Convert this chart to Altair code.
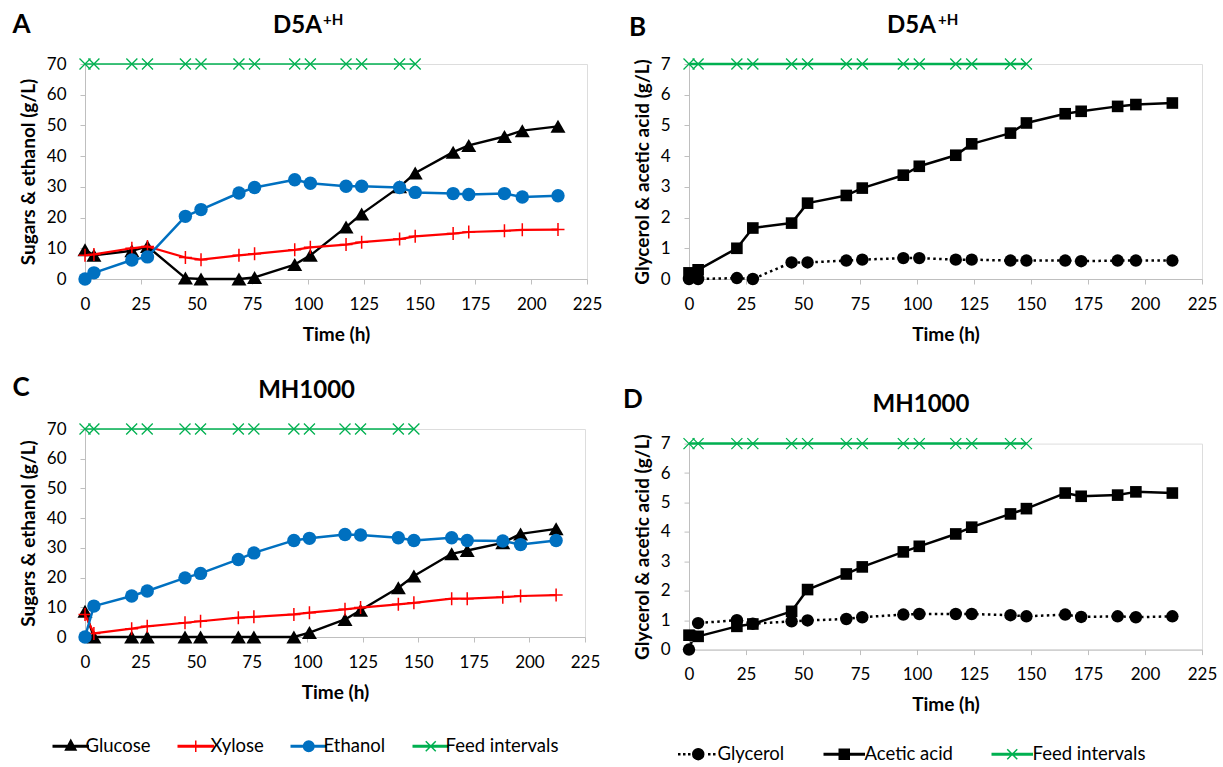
import altair as alt
import pandas as pd

# ---------------- data ----------------
times = [0, 4, 21, 28, 45, 52, 69, 76, 94, 101, 117, 124, 141, 148, 165, 172, 188, 196, 212]
feed_times = [0, 4, 21, 28, 45, 52, 69, 76, 94, 101, 117, 124, 141, 148]
feed_sugar = [70, 70, 70, 70, 70, 70, 70, 70, 70, 70, 70, 70, 70, 70]
feed_acid = [7, 7, 7, 7, 7, 7, 7, 7, 7, 7, 7, 7, 7, 7]

a_glucose = [9.5, 7.7, 9.2, 10.6, 0.3, 0, 0, 0.5, 4.7, 7.7, 16.9, 21.2, 30, 34.5, 41.3, 43.5, 46.4, 48.3, 49.7]
a_xylose = [7.7, 8, 10, 10.6, 7, 6.3, 7.7, 8.2, 9.5, 10.3, 11.2, 12, 13, 13.9, 14.8, 15.3, 15.7, 16, 16.1]
a_ethanol = [0, 2, 6.2, 7.2, 20.4, 22.6, 28, 29.8, 32.3, 31.2, 30.2, 30.2, 29.8, 28.2, 27.8, 27.5, 27.8, 26.7, 27.1]

b_glycerol = [0, 0, 0.03, 0, 0.54, 0.54, 0.6, 0.63, 0.68, 0.68, 0.63, 0.63, 0.6, 0.6, 0.6, 0.58, 0.6, 0.6, 0.6]
b_acetic = [0.2, 0.3, 1.0, 1.66, 1.82, 2.47, 2.72, 2.96, 3.38, 3.67, 4.03, 4.4, 4.75, 5.08, 5.38, 5.46, 5.62, 5.68, 5.73]

c_glucose = [8.7, 0, 0, 0, 0, 0, 0, 0, 0, 1.5, 5.9, 9, 16.6, 20.5, 28, 29.1, 31.7, 34.7, 36.4]
c_xylose = [7.6, 1.2, 2.8, 3.6, 4.8, 5.3, 6.5, 6.8, 7.6, 8.2, 9.3, 9.9, 11, 11.5, 12.9, 12.9, 13.4, 13.8, 14.1]
c_ethanol = [0, 10.4, 13.8, 15.5, 19.9, 21.4, 26.1, 28.3, 32.5, 33.2, 34.5, 34.3, 33.4, 32.5, 33.4, 32.5, 32.3, 31.1, 32.5]

d_glycerol = [0, 0.9, 1.0, 0.88, 0.96, 0.99, 1.04, 1.1, 1.19, 1.21, 1.21, 1.21, 1.17, 1.13, 1.19, 1.11, 1.13, 1.1, 1.13]
d_acetic = [0.49, 0.45, 0.79, 0.87, 1.3, 2.04, 2.57, 2.81, 3.32, 3.51, 3.93, 4.16, 4.61, 4.79, 5.32, 5.21, 5.25, 5.36, 5.32]

left_series = ["Glucose", "Xylose", "Ethanol", "Feed intervals"]
right_series = ["Glycerol", "Acetic acid", "Feed intervals"]

panel_letters = ["A", "B", "C", "D"]
panel_titles = ["D5A", "D5A", "MH1000", "MH1000"]
title_superscripts = ["+H", "+H"]
x_title = "Time (h)"
y_title_sugar = "Sugars & ethanol (g/L)"
y_title_acid = "Glycerol & acetic acid (g/L)"
x_ticks = [0, 25, 50, 75, 100, 125, 150, 175, 200, 225]
y_ticks_sugar = [0, 10, 20, 30, 40, 50, 60, 70]
y_ticks_acid = [0, 1, 2, 3, 4, 5, 6, 7]

# ---------------- style ----------------
FONT = "Lato"
AXIS_GREY = "#BFBFBF"
C_BLACK = "#000000"
C_RED = "#FF0000"
C_BLUE = "#0070C0"
C_GREEN = "#00B050"

PLUS = "M-1,0H1M0,-1V1"
XMARK = "M-1,-1L1,1M1,-1L-1,1"


def axis_style(lp, tp):
    return dict(labelFont=FONT, labelFontSize=17, labelColor="#000000",
                titleFont=FONT, titleFontSize=19, titleFontWeight="bold", titleColor="#000000",
                domainColor=AXIS_GREY, domainWidth=1, tickColor=AXIS_GREY, tickWidth=1,
                tickSize=5, grid=False, labelPadding=lp, titlePadding=tp,
                labelOverlap=False, labelFlush=False)


def make_x():
    return alt.X("t:Q", scale=alt.Scale(domain=[0, 225], nice=False, zero=False),
                 axis=alt.Axis(values=x_ticks, title=x_title, **axis_style(12, 13)))


def make_y(ymax, ticks, title):
    return alt.Y("v:Q", scale=alt.Scale(domain=[0, ymax], nice=False, zero=False),
                 axis=alt.Axis(values=ticks, title=title, **axis_style(14, 8)))


def series(t, v, X, Y, color, lw, shape, size, filled, mw, dash=None):
    df = pd.DataFrame({"t": t, "v": v})
    lk = dict(color=color, strokeWidth=lw, strokeJoin="round")
    if dash is not None:
        lk["strokeDash"] = dash
    line = alt.Chart(df).mark_line(**lk).encode(x=X, y=Y)
    pts = alt.Chart(df).mark_point(shape=shape, size=size, filled=filled, color=color,
                                   strokeWidth=mw, opacity=1).encode(x=X, y=Y)
    return [line, pts]


def text_layer(txt, x, y, size, align="left"):
    df = pd.DataFrame({"label": [txt]})
    return alt.Chart(df).mark_text(font=FONT, fontSize=size, fontWeight="bold", align=align,
                                   baseline="alphabetic", color="#000000").encode(
        x=alt.value(x), y=alt.value(y), text="label:N")


def anchor_layer(x1, x2, y):
    # invisible helper that fixes the panel's outer bounds for the layout
    return alt.Chart(pd.DataFrame({"a": [0]})).mark_rule(color="white", strokeWidth=0.01,
                                                         opacity=0).encode(
        x=alt.value(x1), x2=alt.value(x2), y=alt.value(y), y2=alt.value(y + 1))


def legend_layer(names, colors, paths, lx, ly, label_offset, col_pad, label_expr=None):
    df = pd.DataFrame({"series": names})
    lk = dict(title=None, orient="none", legendX=lx, legendY=ly, direction="horizontal",
              symbolSize=100, symbolStrokeWidth=1.5, symbolOpacity=1, labelFont=FONT,
              labelFontSize=18.5, labelColor="#000000", labelOffset=label_offset,
              columnPadding=col_pad, padding=0, labelLimit=400)
    if label_expr is not None:
        lk["labelExpr"] = label_expr
    leg = alt.Legend(**lk)
    return alt.Chart(df).transform_filter("false").mark_point(
        filled=True, size=100, strokeWidth=1.5, opacity=1).encode(
        shape=alt.Shape("series:N", scale=alt.Scale(domain=names, range=paths), legend=leg),
        fill=alt.Fill("series:N", scale=alt.Scale(domain=names, range=colors), legend=leg),
        stroke=alt.Stroke("series:N", scale=alt.Scale(domain=names, range=colors), legend=leg),
    )


def sugar_panel(glu, xyl, eth):
    X = make_x()
    Y = make_y(70, y_ticks_sugar, y_title_sugar)
    layers = []
    layers += series(times, glu, X, Y, C_BLACK, 2.4, "triangle-up", 225, True, 1)
    layers += series(times, xyl, X, Y, C_RED, 2.2, PLUS, 169, False, 1.5)
    layers += series(times, eth, X, Y, C_BLUE, 2.5, "circle", 180, True, 1)
    layers += series(feed_times, feed_sugar, X, Y, C_GREEN, 1.7, XMARK, 121, False, 1.3)
    return layers


def acid_panel(gly, ace):
    X = make_x()
    Y = make_y(7, y_ticks_acid, y_title_acid)
    layers = []
    layers += series(times, gly, X, Y, C_BLACK, 2.5, "circle", 155, True, 1, dash=[2.5, 3.4])
    layers += series(times, ace, X, Y, C_BLACK, 2.5, "square", 135, True, 1)
    layers += series(feed_times, feed_acid, X, Y, C_GREEN, 2.5, XMARK, 121, False, 1.3)
    return layers


# legend symbol paths (line + marker), units of 5 px
L_LINE = "M-1,-0.15H6V0.15H-1Z"
left_paths = [
    L_LINE + "M2.5,-1.2L3.55,0.75L1.45,0.75Z",
    L_LINE + "M2.5,-1.15V1.15",
    L_LINE + "M1.45,0A1.05,1.05,0,1,0,3.55,0A1.05,1.05,0,1,0,1.45,0Z",
    L_LINE + "M1.5,-1L3.5,1M3.5,-1L1.5,1",
]
R_LINE = "M-1,-0.15H7V0.15H-1Z"


def dot(x):
    return "M%.2f,-0.1h0.2v0.2h-0.2Z" % (x - 0.1)


right_paths = [
    dot(-0.6) + dot(0.4) + dot(1.4) + "M2.1,0A1.1,1.1,0,1,0,4.3,0A1.1,1.1,0,1,0,2.1,0Z" + dot(5.4) + dot(6.4),
    R_LINE + "M2,-1H4V1H2Z",
    R_LINE + "M2,-1L4,1M4,-1L2,1",
]

# ---------------- panels ----------------
panel_A = alt.layer(
    *sugar_panel(a_glucose, a_xylose, a_ethanol),
    text_layer(panel_letters[0], -72.5, -30.7, 26),
    text_layer(panel_titles[0], 188, -30.7, 24),
    text_layer(title_superscripts[0], 238, -39, 15),
    anchor_layer(-84, 520, -62.7),
).properties(width=502, height=215)

panel_C = alt.layer(
    *sugar_panel(c_glucose, c_xylose, c_ethanol),
    text_layer(panel_letters[2], -72.5, -32.7, 26),
    text_layer(panel_titles[2], 221.6, -30.7, 24, align="center"),
    legend_layer(left_series, [C_BLACK, C_RED, C_BLUE, C_GREEN], left_paths, -36, 672.8, 18, 23),
).properties(width=500, height=208)

panel_B = alt.layer(
    *acid_panel(b_glycerol, b_acetic),
    text_layer(panel_letters[1], -60, -27.7, 26),
    text_layer(panel_titles[1], 198, -30.7, 24),
    text_layer(title_superscripts[1], 249, -39, 15),
    anchor_layer(-70, 400, -62.7),
).properties(width=513, height=215)

panel_D = alt.layer(
    *acid_panel(d_glycerol, d_acetic),
    text_layer(panel_letters[3], -66, -35.3, 26),
    text_layer(panel_titles[3], 232, -31.3, 24, align="center"),
    legend_layer(right_series, [C_BLACK, C_BLACK, C_GREEN], right_paths, -16, 680.8, 26, 35,
                 label_expr="datum.label == 'Glycerol' ? '\u2002\u2002Glycerol' : datum.label"),
).properties(width=513, height=206)

left = alt.vconcat(panel_A, panel_C, spacing=150, bounds="flush")
right = alt.vconcat(panel_B, panel_D, spacing=164.6, bounds="flush")

chart = alt.hconcat(left, right, spacing=12, bounds="full").resolve_scale(
    shape="independent", fill="independent", stroke="independent"
).configure_view(stroke=None).configure(font=FONT).properties(padding=0)

chart.save("out.html", embed_options={"renderer": "svg", "actions": False})
